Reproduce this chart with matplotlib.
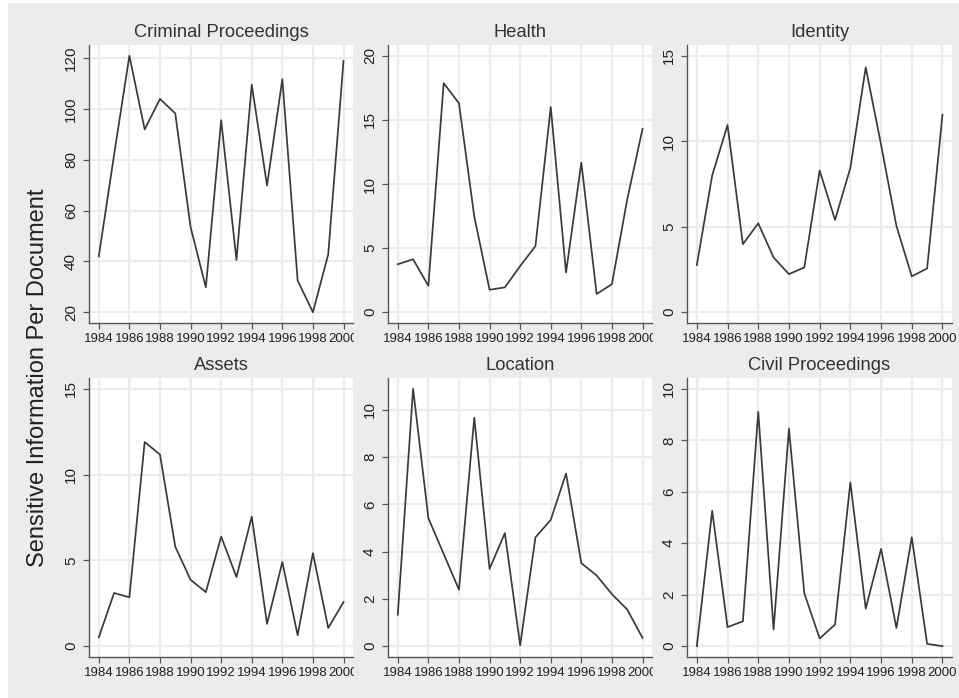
import matplotlib
matplotlib.use("Agg")
import matplotlib.pyplot as plt
from matplotlib.patches import Rectangle
from matplotlib.transforms import Bbox, TransformedBbox

plt.rcParams['font.family'] = ['Liberation Sans', 'DejaVu Sans']

years = list(range(1984, 2001))
xticks = list(range(1984, 2001, 2))

titles = ["Criminal Proceedings", "Health", "Identity",
          "Assets", "Location", "Civil Proceedings"]

criminal = [42, 82, 121, 92, 104, 98.3, 53.6, 29.8, 95.6, 40.6, 109.6, 69.9, 111.8, 32.5, 20, 42.8, 119]
health = [3.74, 4.13, 2.06, 17.86, 16.3, 7.48, 1.75, 1.94, 3.6, 5.16, 16.0, 3.1, 11.66, 1.42, 2.19, 8.8, 14.3]
identity = [2.76, 8.0, 10.95, 3.98, 5.2, 3.2, 2.23, 2.62, 8.29, 5.4, 8.44, 14.32, 9.8, 5.05, 2.1, 2.56, 11.55]
assets = [0.52, 3.1, 2.85, 11.9, 11.17, 5.8, 3.87, 3.15, 6.39, 4.03, 7.55, 1.3, 4.9, 0.64, 5.42, 1.06, 2.57]
location = [1.33, 10.88, 5.41, 3.9, 2.39, 9.66, 3.27, 4.78, 0.04, 4.6, 5.34, 7.3, 3.51, 2.99, 2.2, 1.55, 0.35]
civil = [0.0, 5.26, 0.74, 0.97, 9.1, 0.65, 8.45, 2.06, 0.3, 0.84, 6.36, 1.46, 3.78, 0.71, 4.23, 0.09, 0.0]

yticks_criminal = [20, 40, 60, 80, 100, 120]
yticks_health = [0, 5, 10, 15, 20]
yticks_identity = [0, 5, 10, 15]
yticks_assets = [0, 5, 10, 15]
yticks_location = [0, 2, 4, 6, 8, 10]
yticks_civil = [0, 2, 4, 6, 8, 10]

series = [criminal, health, identity, assets, location, civil]
yticks_all = [yticks_criminal, yticks_health, yticks_identity,
              yticks_assets, yticks_location, yticks_civil]

W, H = 959, 698
fig = plt.figure(figsize=(W / 100, H / 100), dpi=100, facecolor='white')

BG = '#ECECEC'
fig.patches.append(Rectangle((8 / W, 0), 1 - 8 / W, 1 - 3 / H,
                             transform=fig.transFigure, facecolor=BG,
                             edgecolor='none', zorder=-10))

col_px = [(89, 353), (388, 652), (687, 952)]
row_px = [(45, 323), (378, 657)]

LINE = '#3a3a3a'
AX = '#555555'
GRID = '#ececec'

for i, (title, ys, yt) in enumerate(zip(titles, series, yticks_all)):
    r, c = divmod(i, 3)
    x0, x1 = col_px[c]
    t0, t1 = row_px[r]
    ax = fig.add_axes([x0 / W, 1 - t1 / H, (x1 - x0) / W, (t1 - t0) / H])
    ax.set_facecolor('white')
    ax.plot(years, ys, color=LINE, lw=1.25, zorder=3)

    lo = min(yt[0], min(ys))
    hi = max(yt[-1], max(ys))
    pad = (hi - lo) * 0.042
    ax.set_ylim(lo - pad, hi + pad)
    ax.set_xlim(years[0] - 0.64, years[-1] + 0.62)
    ax.set_xticks(xticks)
    ax.set_yticks(yt)
    ax.set_yticklabels([str(v) for v in yt], rotation=90, va='center')
    ax.grid(True, color=GRID, lw=1.6, zorder=0)
    ax.set_axisbelow(True)

    for s in ['top', 'right']:
        ax.spines[s].set_visible(False)
    for s in ['left', 'bottom']:
        ax.spines[s].set_color(AX)
        ax.spines[s].set_linewidth(1.0)
    ax.tick_params(axis='both', direction='out', length=4.5, width=0.9,
                   color=AX, labelcolor='#222222')
    ax.tick_params(axis='x', pad=3, labelsize=9.5)
    ax.tick_params(axis='y', pad=3.5, labelsize=11)

    ax.set_title(title, fontsize=13.2, color='#333333', pad=6)

    if c < 2:
        clip = TransformedBbox(Bbox.from_extents(0, 0, (x1 + 1) / W, 1),
                               fig.transFigure)
        for lab in ax.get_xticklabels():
            lab.set_clip_box(clip)
            lab.set_clip_on(True)

fig.text(38 / W, 1 - 378 / H, "Sensitive Information Per Document", rotation=90,
         ha='center', va='center', fontsize=17, color='#222222')

fig.savefig("out.png", dpi=100, facecolor='white')
